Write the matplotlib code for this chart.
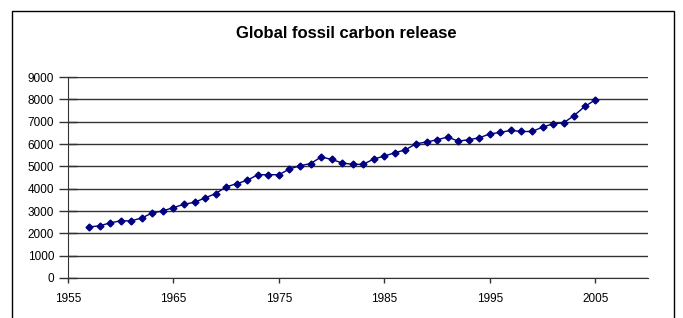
import matplotlib.pyplot as plt
from matplotlib.patches import Rectangle

# Dados
anos = list(range(1957, 2006))
carbono = [2290, 2335, 2470, 2560, 2560, 2690, 2915, 3005, 3155, 3300,
           3390, 3585, 3780, 4080, 4225, 4375, 4625, 4625, 4625, 4880,
           5030, 5120, 5420, 5310, 5150, 5090, 5090, 5330, 5460, 5610,
           5740, 6010, 6090, 6190, 6310, 6130, 6190, 6280, 6450, 6520,
           6610, 6560, 6560, 6755, 6905, 6950, 7275, 7680, 7975]
xticks = [1955, 1965, 1975, 1985, 1995, 2005]
yticks = list(range(0, 9001, 1000))

plt.rcParams['font.family'] = ['Liberation Sans', 'DejaVu Sans']

fig = plt.figure(figsize=(6.83, 3.18), dpi=100)
ax = fig.add_axes([68/683, 1 - 278/318, (648 - 68)/683, (278 - 77)/318])

ax.plot(anos, carbono, color='#000080', marker='D', markersize=3.5, linewidth=1)

ax.set_xlim(1955, 2010)
ax.set_ylim(0, 9000)
ax.set_xticks(xticks)
ax.set_yticks(yticks)
ax.yaxis.grid(True, color='#333333', linewidth=1)
ax.set_axisbelow(True)
for s in ['top', 'right']:
    ax.spines[s].set_visible(False)
ax.spines['left'].set_color('#333333')
ax.spines['bottom'].set_color('#333333')
ax.tick_params(axis='y', labelsize=8.5, direction='inout', length=13,
               width=1, color='#333333', pad=3.5)
ax.tick_params(axis='x', labelsize=8.5, direction='out', length=3.5,
               width=1, color='#333333', pad=7)

fig.text(346/683, 1 - 34/318, "Global fossil carbon release",
         ha='center', va='center', fontsize=12, fontweight='bold')

# moldura externa
fig.patches.append(Rectangle((12/683, -0.1), (674 - 12)/683, 1.1 - 11/318,
                             transform=fig.transFigure, fill=False,
                             edgecolor='black', linewidth=1))

fig.savefig('out.png', dpi=100)
